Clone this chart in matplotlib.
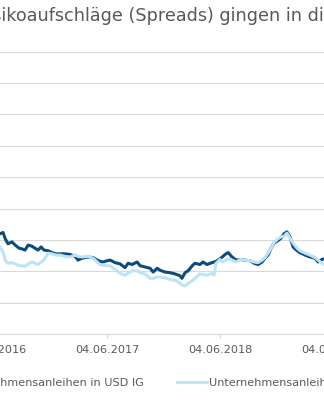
import matplotlib
matplotlib.use("Agg")
import matplotlib.pyplot as plt
import matplotlib.dates as mdates
import pandas as pd

# Spreads in basis points
dates = [
    "2016-06-23", "2016-07-03", "2016-07-10", "2016-07-19", "2016-08-01", "2016-08-11",
    "2016-08-24", "2016-09-02", "2016-09-12", "2016-09-22", "2016-10-05", "2016-10-14",
    "2016-10-24", "2016-11-03", "2016-11-12", "2016-11-25", "2016-12-08", "2016-12-21",
    "2017-01-03", "2017-01-19", "2017-02-04", "2017-02-21", "2017-03-02", "2017-03-15",
    "2017-04-04", "2017-04-20", "2017-05-03", "2017-05-12", "2017-05-22", "2017-06-04",
    "2017-06-14", "2017-06-30", "2017-07-16", "2017-08-01", "2017-08-11", "2017-08-24",
    "2017-09-09", "2017-09-19", "2017-10-05", "2017-10-21", "2017-10-31", "2017-11-13",
    "2017-11-22", "2017-12-08", "2017-12-25", "2018-01-10", "2018-01-26", "2018-02-01",
    "2018-02-11", "2018-02-21", "2018-03-06", "2018-03-15", "2018-03-31", "2018-04-10",
    "2018-04-23", "2018-05-09", "2018-05-16", "2018-05-22", "2018-06-04", "2018-06-11",
    "2018-06-23", "2018-06-30", "2018-07-13", "2018-07-26", "2018-08-08", "2018-08-24",
    "2018-09-09", "2018-09-22", "2018-10-05", "2018-10-18", "2018-10-27", "2018-11-06",
    "2018-11-16", "2018-11-25", "2018-12-08", "2018-12-18", "2018-12-28", "2019-01-06",
    "2019-01-16", "2019-01-26", "2019-02-08", "2019-02-17", "2019-03-06", "2019-03-22",
    "2019-04-07", "2019-04-17", "2019-04-29", "2019-05-12",
]
usd_ig = [
    160, 162, 152, 144, 147, 142, 137, 136, 134, 142, 140, 137,
    134, 139, 134, 133, 130, 128, 128, 128, 127, 124, 118, 121,
    123, 122, 118, 116, 115, 117, 118, 114, 112, 106, 113, 111,
    115, 109, 107, 105, 99, 105, 102, 99, 98, 96, 93, 89,
    98, 101, 109, 113, 111, 115, 111, 114, 115, 116, 120, 123,
    128, 130, 123, 118, 119, 118, 117, 113, 111, 115, 121, 126,
    137, 145, 149, 153, 160, 163, 155, 139, 133, 130, 126, 123,
    121, 115, 119, 121,
]
eur_ig = [
    139, 131, 118, 113, 114, 112, 109, 109, 108, 112, 115, 113,
    111, 115, 118, 129, 128, 126, 126, 124, 123, 126, 124, 123,
    124, 121, 115, 111, 110, 109, 109, 103, 97, 94, 97, 101,
    101, 98, 96, 89, 89, 91, 91, 90, 87, 86, 81, 78,
    77, 81, 85, 89, 96, 95, 94, 97, 94, 113, 119, 115,
    118, 120, 118, 115, 119, 118, 117, 115, 114, 118, 122, 129,
    137, 146, 152, 155, 156, 161, 153, 145, 137, 133, 129, 126,
    122, 118, 113, 110,
]
labels = ["Unternehmensanleihen in USD IG", "Unternehmensanleihen in EUR IG"]
colors = ["#0d4b7a", "#bde3f7"]
xtick_dates = ["2016-06-04", "2017-06-04", "2018-06-04", "2019-06-04"]
title = "Risikoaufschläge (Spreads) gingen in die Höhe"


def main():
    fig = plt.figure(figsize=(3.24, 4.0), dpi=100)
    plt.rcParams['font.family'] = ['DejaVu Sans']

    # the picture is a crop of a wider chart, so the axes run past both edges
    ax = fig.add_axes([-100 / 324, 65.8 / 400, 524 / 324, 282.5 / 400])
    x = pd.to_datetime(dates)
    ax.plot(x, usd_ig, color=colors[0], lw=2.2, label=labels[0])
    ax.plot(x, eur_ig, color=colors[1], lw=2.2, label=labels[1])

    ax.set_xlim(pd.Timestamp("2015-08-05"), pd.Timestamp("2020-03-24"))
    ax.set_ylim(0, 450)
    ax.set_yticks(range(0, 451, 50))
    ax.set_xticks(pd.to_datetime(xtick_dates))
    ax.xaxis.set_major_formatter(mdates.DateFormatter('%d.%m.%Y'))
    ax.grid(axis='y', color='#d9d9d9', lw=0.8)
    ax.set_axisbelow(True)
    for side in ['top', 'left', 'right']:
        ax.spines[side].set_visible(False)
    ax.spines['bottom'].set_color('#d9d9d9')
    ax.spines['bottom'].set_linewidth(0.8)
    ax.tick_params(axis='x', colors='#d9d9d9', labelcolor='#595959',
                   labelsize=8.1, length=3, width=0.8, pad=5)
    # y labels sit outside the cropped frame anyway
    ax.tick_params(axis='y', length=0, labelleft=False)

    # title: only part of it is visible, the start "Ris" is left of the frame
    renderer = fig.canvas.get_renderer()
    probe = fig.text(0, 0, "Ris", fontsize=12.7)
    prefix_w = probe.get_window_extent(renderer).width
    probe.remove()
    fig.text((1 - prefix_w) / 324, 1 - 20.7 / 400, title, fontsize=12.7,
             color='#595959', ha='left', va='baseline')

    fig.legend(loc='center', bbox_to_anchor=(160 / 324, 1 - 383 / 400), ncol=2,
               frameon=False, fontsize=8.1, handlelength=2.65, handletextpad=0.18,
               columnspacing=3.0, borderpad=0, borderaxespad=0, labelcolor='#595959')

    fig.savefig('out.png', dpi=100)


if __name__ == "__main__":
    main()
